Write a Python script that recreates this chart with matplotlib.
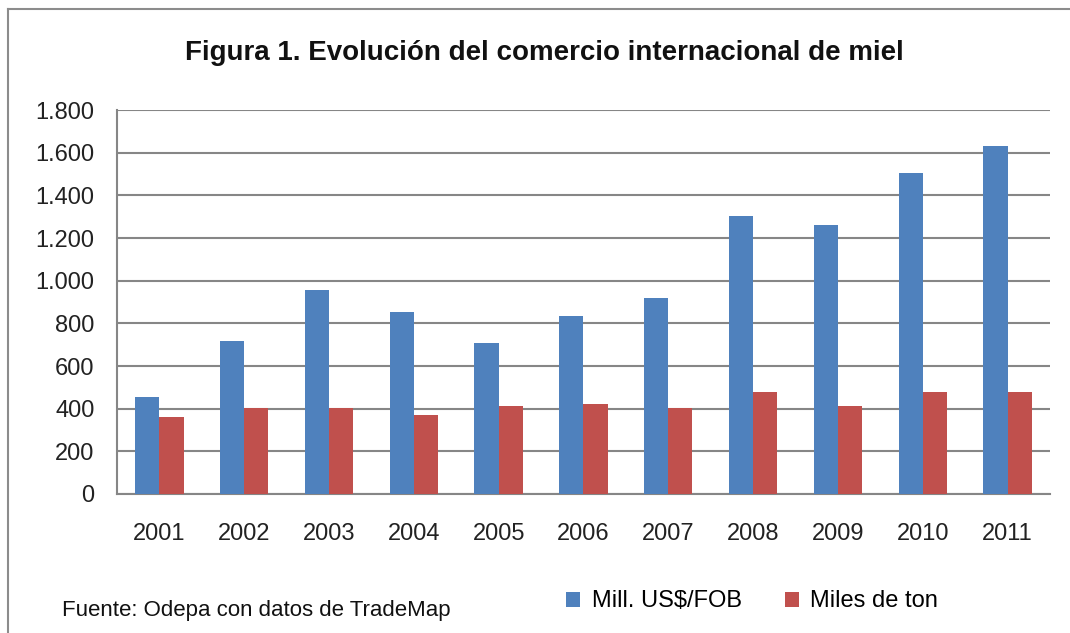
import matplotlib.pyplot as plt
import numpy as np
from matplotlib.ticker import FuncFormatter

years = ['2001', '2002', '2003', '2004', '2005', '2006', '2007', '2008', '2009', '2010', '2011']
mill_usd = [455, 717, 956, 853, 708, 834, 919, 1303, 1261, 1505, 1631]
miles_ton = [361, 403, 403, 370, 412, 422, 403, 478, 412, 478, 478]

blue = '#4F81BD'
red = '#C0504D'
grid_col = '#868686'
arial = ['Liberation Sans', 'DejaVu Sans']

fig = plt.figure(figsize=(10.7, 6.33), dpi=100)
ax = fig.add_axes([0.1093, 0.2196, 0.872, 0.6066])

x = np.arange(len(years))
w = 0.285
ax.bar(x - w / 2, mill_usd, w, color=blue, label='Mill. US$/FOB', zorder=3)
ax.bar(x + w / 2, miles_ton, w, color=red, label='Miles de ton', zorder=3)

ax.set_xlim(-0.5, len(years) - 0.5)
ax.set_ylim(0, 1800)
ax.set_yticks(range(0, 1801, 200))
ax.yaxis.set_major_formatter(FuncFormatter(lambda v, p: f'{int(v):,}'.replace(',', '.')))
ax.set_xticks(x)
ax.set_xticklabels(years, family=arial, fontsize=17)
for lab in ax.get_yticklabels():
    lab.set_family(arial)
    lab.set_fontsize(17)

ax.grid(axis='y', color=grid_col, linewidth=1.5, zorder=0)
for s in ['top', 'right']:
    ax.spines[s].set_visible(False)
for s in ['left', 'bottom']:
    ax.spines[s].set_color(grid_col)
    ax.spines[s].set_linewidth(1.5)
ax.tick_params(axis='y', length=0, pad=16, colors='#222222')
ax.tick_params(axis='x', length=0, pad=21, colors='#222222')

fig.text(0.509, 0.916, 'Figura 1. Evolución del comercio internacional de miel',
         ha='center', va='center', fontsize=20, fontweight='bold', family=arial, color='#111111')

leg = fig.legend(loc='center', bbox_to_anchor=(0.703, 0.05), ncol=2, frameon=False,
                 prop={'family': arial, 'size': 17}, handlelength=0.6, handleheight=0.6,
                 handletextpad=0.5, columnspacing=1.8)

fig.text(0.058, 0.035, 'Fuente: Odepa con datos de TradeMap', ha='left', va='center',
         fontsize=16, family=arial, color='#111111')

# outer frame lines (left and top)
fig.add_artist(plt.Line2D([0.0075, 0.0075], [0.0, 0.985], color='#8c8c8c', linewidth=1.5))
fig.add_artist(plt.Line2D([0.0075, 1.0], [0.985, 0.985], color='#8c8c8c', linewidth=1.5))

plt.savefig('out.png', dpi=100)
